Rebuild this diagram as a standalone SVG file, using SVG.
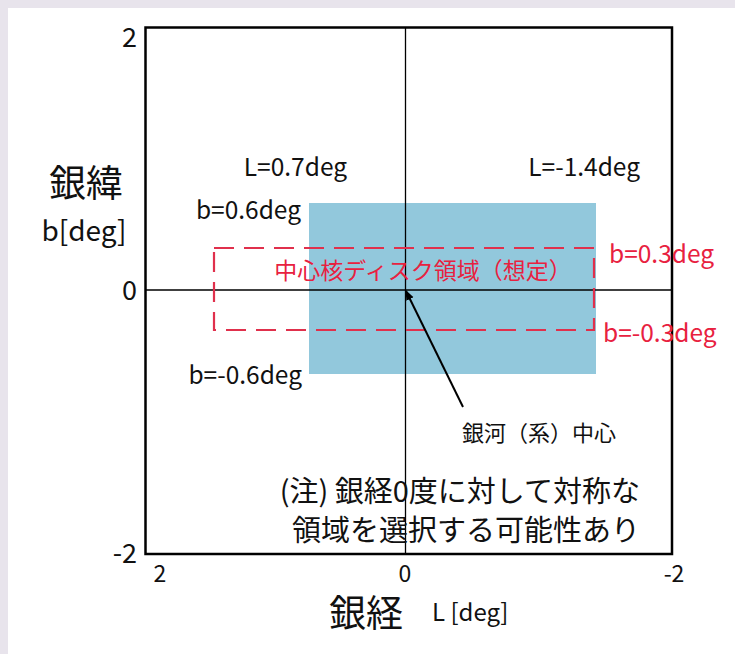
<svg xmlns="http://www.w3.org/2000/svg" width="735" height="654" viewBox="0 0 735 654">
  <style>
    text { font-family: "Noto Sans CJK JP", "Liberation Sans", sans-serif; fill: #111; }
    .lbl { font-size: 24.5px; }
    .red { fill: #e8213f; }
    .tick { font-size: 23px; }
    .ltick { font-size: 27px; }
    .axis { font-size: 37px; }
    .note { font-size: 29px; }
  </style>
  <defs>
    <marker id="arr" markerWidth="10" markerHeight="10" refX="9" refY="5" orient="auto" markerUnits="userSpaceOnUse">
      <path d="M0,1 L10,5 L0,9 Z" fill="#000"/>
    </marker>
  </defs>
  <rect x="0" y="0" width="735" height="654" fill="#e8e4ec"/>
  <rect x="8" y="8" width="727" height="646" fill="#fff"/>

  <g id="regions">
    <rect id="blue-region" x="309" y="203" width="287" height="171" fill="#92c8dc"/>
  </g>

  <g id="axes" stroke="#000" fill="none">
    <line x1="405.5" y1="27" x2="405.5" y2="554" stroke-width="1.3"/>
    <line x1="145" y1="290" x2="672" y2="290" stroke-width="1.3"/>
    <rect x="145.5" y="27.5" width="526.5" height="526.5" stroke-width="2.5"/>
  </g>

  <g id="core-disk">
    <rect x="214" y="248" width="380" height="82" fill="none" stroke="#e0304c" stroke-width="2.2" stroke-dasharray="20 10"/>
    <text class="red" x="423" y="279" font-size="23" text-anchor="middle">中心核ディスク領域（想定）</text>
  </g>

  <g id="labels">
    <text class="lbl" x="347" y="176" text-anchor="end">L=0.7deg</text>
    <text class="lbl" x="640" y="176" text-anchor="end">L=-1.4deg</text>
    <text class="lbl" x="301" y="219" text-anchor="end">b=0.6deg</text>
    <text class="lbl" x="302" y="384" text-anchor="end">b=-0.6deg</text>
    <text class="lbl red" x="609" y="263">b=0.3deg</text>
    <text class="lbl red" x="603" y="342">b=-0.3deg</text>
  </g>

  <g id="center-label">
    <text x="462" y="441" font-size="22">銀河（系）中心</text>
  </g>

  <g id="connectors">
    <line x1="463" y1="407" x2="406" y2="291" stroke="#000" stroke-width="2" marker-end="url(#arr)"/>
  </g>

  <g id="note">
    <text class="note" x="640" y="502" text-anchor="end">(注) 銀経0度に対して対称な</text>
    <text class="note" x="640" y="541" text-anchor="end">領域を選択する可能性あり</text>
  </g>

  <g id="ticks">
    <text class="ltick" x="137" y="47" text-anchor="end">2</text>
    <text class="ltick" x="137" y="300" text-anchor="end">0</text>
    <text class="ltick" x="137" y="563" text-anchor="end">-2</text>
    <text class="tick" x="160" y="582" text-anchor="middle">2</text>
    <text class="tick" x="405" y="582" text-anchor="middle">0</text>
    <text class="tick" x="674" y="582" text-anchor="middle">-2</text>
  </g>

  <g id="axis-titles">
    <text class="axis" x="86" y="197" text-anchor="middle">銀緯</text>
    <text x="84" y="241" font-size="28" text-anchor="middle">b[deg]</text>
    <text class="axis" x="366" y="627" text-anchor="middle">銀経</text>
    <text x="432" y="621" font-size="24">L [deg]</text>
  </g>
</svg>
